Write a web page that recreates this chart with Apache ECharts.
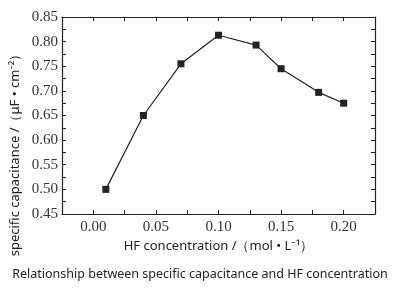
<!DOCTYPE html>
<html><head><meta charset="utf-8">
<script src="https://cdn.jsdelivr.net/npm/echarts@6/dist/echarts.min.js"></script>
<style>html,body{margin:0;padding:0;background:#fff}#c{width:400px;height:300px}</style>
</head><body><div id="c"></div>
<script>
var hfConc = [0.01, 0.04, 0.07, 0.10, 0.13, 0.15, 0.18, 0.20];
var capacitance = [0.50, 0.65, 0.755, 0.813, 0.793, 0.745, 0.697, 0.675];
var xTitle = 'HF concentration /（mol • L⁻¹）';
var yTitle = 'specific capacitance /（μF • cm⁻²）';
var chartTitle = 'Relationship between specific capacitance and HF concentration';

var chart = echarts.init(document.getElementById('c'));
var tickFmt = function (v) {
  var m = Math.round(v * 1000);
  return (m % 50 === 0) ? (m / 1000).toFixed(2) : '';
};
var lineC = '#222';
function baseAxis(extra) {
  return Object.assign({
    axisLine: {show: true, onZero: false, lineStyle: {color: lineC, width: 1.2}},
    axisTick: {show: true, inside: true, length: 4, lineStyle: {color: lineC}},
    splitLine: {show: false}
  }, extra);
}
chart.setOption({
  animation: false,
  title: {text: chartTitle, left: 'center', top: 263,
    textStyle: {fontFamily: 'Noto Sans', fontSize: 12.5, fontWeight: 'normal', color: '#222'}},
  grid: {left: 62, top: 17, right: 25, bottom: 86},
  xAxis: [
    baseAxis({type: 'value', min: -0.025, max: 0.225, interval: 0.025, position: 'bottom',
      axisLabel: {formatter: tickFmt, fontFamily: 'Liberation Serif', fontSize: 15, color: '#333', margin: 6},
      name: xTitle, nameLocation: 'middle', nameGap: 25,
      nameTextStyle: {fontFamily: 'Noto Sans', fontSize: 13, color: '#222'}}),
    baseAxis({type: 'value', min: -0.025, max: 0.225, interval: 0.025, position: 'top',
      axisLabel: {show: false}})
  ],
  yAxis: [
    baseAxis({type: 'value', min: 0.45, max: 0.85, interval: 0.025, position: 'left',
      axisLabel: {formatter: tickFmt, fontFamily: 'Liberation Serif', fontSize: 15, color: '#333', margin: 4}}),
    baseAxis({type: 'value', min: 0.45, max: 0.85, interval: 0.025, position: 'right',
      axisLabel: {show: false}})
  ],
  graphic: [{
    type: 'text', x: 15, y: 152, rotation: Math.PI / 2,
    style: {text: yTitle, fontFamily: 'Noto Sans', fontSize: 13, fill: '#222',
      textAlign: 'center', textVerticalAlign: 'middle'}
  }],
  series: [{
    type: 'line', xAxisIndex: 0, yAxisIndex: 0,
    data: hfConc.map(function (x, i) { return [x, capacitance[i]]; }),
    symbol: 'rect', symbolSize: 7,
    lineStyle: {color: '#222', width: 1.2},
    itemStyle: {color: '#222'}
  }]
});
</script></body></html>
